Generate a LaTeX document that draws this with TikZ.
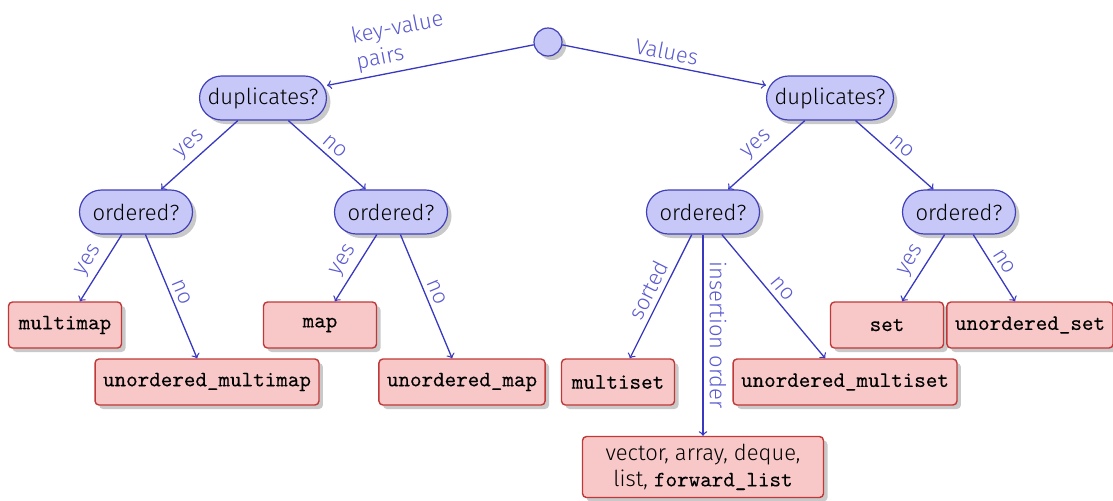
\documentclass[tikz,border=0pt]{standalone}
\usepackage{fontspec}
\setmainfont{Fira Sans Light}
\setmonofont{Latin Modern Mono}[FakeBold=0.2]
\usetikzlibrary{shadows}
\definecolor{bfill}{HTML}{C8C8F8}
\definecolor{bdraw}{HTML}{4040B8}
\definecolor{rfill}{HTML}{F8C8C8}
\definecolor{rdraw}{HTML}{C03838}
\definecolor{edgec}{HTML}{3838C0}
\definecolor{labc}{HTML}{5A5AD0}
\begin{document}
\begin{tikzpicture}[x=0.5pt,y=-0.5pt,
  font=\fontsize{11}{13}\selectfont,
  shad/.style={drop shadow={shadow xshift=2pt,shadow yshift=-2pt,opacity=0.3,fill=black!70}},
  q/.style={draw=bdraw, fill=bfill, line width=0.6pt, rounded corners=11pt,
    minimum height=22pt, minimum width=56.5pt, inner xsep=4pt, shad},
  r/.style={draw=rdraw, fill=rfill, line width=0.7pt, rounded corners=2pt,
    minimum height=23pt, minimum width=56.5pt, inner xsep=4pt, shad},
  e/.style={draw=edgec, line width=0.65pt, ->},
  lab/.style={sloped, above, text=labc, inner sep=2.5pt}]
\useasboundingbox (0,0) rectangle (1113,500);
\node[circle, draw=bdraw, fill=bfill, line width=0.6pt, minimum size=14pt, inner sep=0pt, shad] (root) at (548,42) {};
\node[q] (dl) at (263,98) {duplicates?};
\node[q] (dr) at (830,98) {duplicates?};
\node[q] (o1) at (136,212) {ordered?};
\node[q] (o2) at (391,212) {ordered?};
\node[q] (o3) at (703,212) {ordered?};
\node[q] (o4) at (959,212) {ordered?};
\node[r] (mm) at (65,325) {\texttt{multimap}};
\node[r] (umm) at (207,382) {\texttt{unordered\_multimap}};
\node[r] (m) at (320,325) {\texttt{map}};
\node[r] (um) at (462,382) {\texttt{unordered\_map}};
\node[r] (ms) at (618,382) {\texttt{multiset}};
\node[r] (ums) at (845,382) {\texttt{unordered\_multiset}};
\node[r, align=center, minimum width=120.5pt, minimum height=30.5pt] (vec) at (703,467) {vector, array, deque,\\ list, \texttt{forward\_list}};
\node[r] (s) at (887,325) {\texttt{set}};
\node[r] (us) at (1030,325) {\texttt{unordered\_set}};
\draw[e] (root) -- node[lab, pos=0.62, align=left] {key-value\\pairs} (dl);
\draw[e] (root) -- node[lab] {Values} (dr);
\draw[e] (dl) -- node[lab] {yes} (o1);
\draw[e] (dl) -- node[lab] {no} (o2);
\draw[e] (dr) -- node[lab] {yes} (o3);
\draw[e] (dr) -- node[lab] {no} (o4);
\draw[e] (o1) -- node[lab] {yes} (mm);
\draw[e] (o1) -- node[lab] {no} (umm);
\draw[e] (o2) -- node[lab] {yes} (m);
\draw[e] (o2) -- node[lab] {no} (um);
\draw[e] (o3) -- node[lab] {sorted} (ms);
\draw[e] (o3) -- node[midway, rotate=-90, anchor=south, text=labc, inner sep=3pt] {insertion order} (vec);
\draw[e] (o3) -- node[lab] {no} (ums);
\draw[e] (o4) -- node[lab] {yes} (s);
\draw[e] (o4) -- node[lab] {no} (us);
\end{tikzpicture}
\end{document}
